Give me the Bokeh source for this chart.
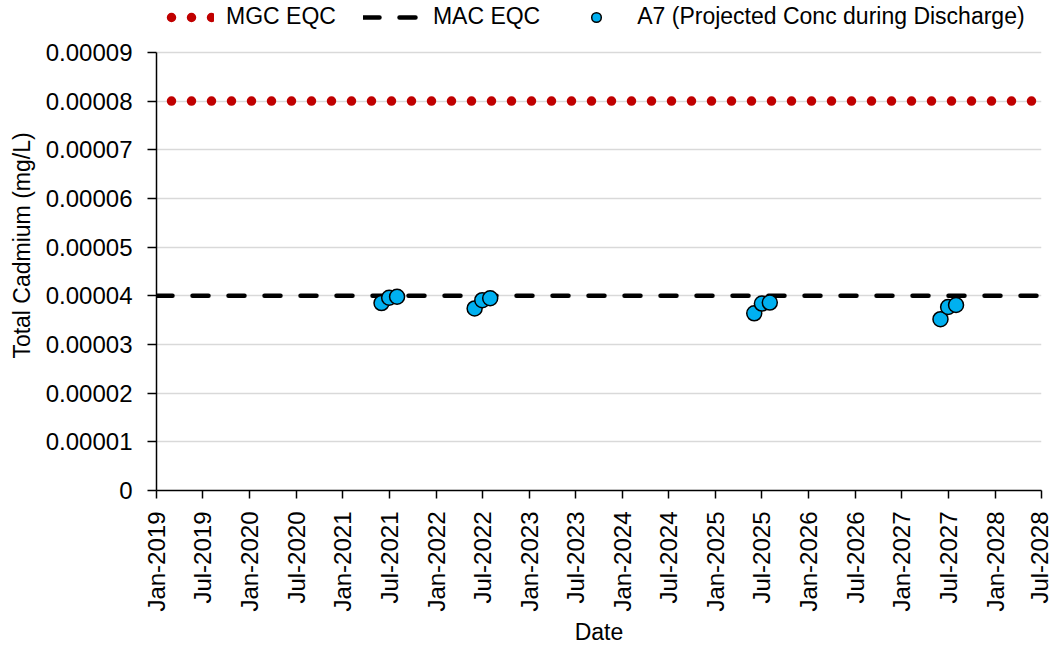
import math
from datetime import datetime
from bokeh.plotting import figure
from bokeh.models import (ColumnDataSource, Range1d, MonthsTicker, DatetimeTickFormatter,
                          FixedTicker, Legend, LegendItem)
from bokeh.embed import file_html
from bokeh.resources import INLINE

# ---- data ----
line_dates = ["2019-01-01", "2028-07-01"]
mgc_eqc = [0.00008, 0.00008]
mac_eqc = [0.00004, 0.00004]

a7_dates = ["2021-06-01", "2021-07-01", "2021-08-01",
            "2022-06-01", "2022-07-01", "2022-08-01",
            "2025-06-01", "2025-07-01", "2025-08-01",
            "2027-06-01", "2027-07-01", "2027-08-01"]
a7_conc = [3.85e-5, 3.96e-5, 3.98e-5,
           3.74e-5, 3.91e-5, 3.95e-5,
           3.64e-5, 3.84e-5, 3.86e-5,
           3.52e-5, 3.77e-5, 3.81e-5]

y_ticks = [0, 0.00001, 0.00002, 0.00003, 0.00004, 0.00005, 0.00006, 0.00007, 0.00008, 0.00009]
y_tick_labels = ["0", "0.00001", "0.00002", "0.00003", "0.00004", "0.00005",
                 "0.00006", "0.00007", "0.00008", "0.00009"]

FONT = "Liberation Sans"
Y_AXIS_MAX = 0.00009
# the frame extends above the axis top to leave room for the legend strip
Y_VIEW_TOP = Y_AXIS_MAX * 491.0 / 439.0

def to_dt(s):
    return datetime.strptime(s, "%Y-%m-%d")

line_src = ColumnDataSource(dict(x=[to_dt(d) for d in line_dates], mgc=mgc_eqc, mac=mac_eqc))
pt_src = ColumnDataSource(dict(x=[to_dt(d) for d in a7_dates], y=a7_conc))

p = figure(width=1052, height=647, x_axis_type="datetime",
           output_backend="svg", toolbar_location=None,
           x_range=Range1d(to_dt(line_dates[0]), to_dt(line_dates[1])),
           y_range=Range1d(0, Y_VIEW_TOP),
           min_border_left=156, min_border_right=11, min_border_top=0, min_border_bottom=156)
p.outline_line_color = None
p.background_fill_color = "white"
p.border_fill_color = "white"

# grid
p.xgrid.grid_line_color = None
p.ygrid.grid_line_color = "#D9D9D9"
p.ygrid.grid_line_width = 1.5
p.ygrid.ticker = FixedTicker(ticks=y_ticks)

# lines
r_mgc = p.line("x", "mgc", source=line_src, line_color="#C00000", line_width=9.5,
               line_dash="0 20", line_dash_offset=5, line_cap="round")
r_mac = p.line("x", "mac", source=line_src, line_color="black", line_width=4.5,
               line_dash="16 20", line_dash_offset=0, line_cap="round")
r_pts = p.scatter("x", "y", source=pt_src, size=15, fill_color="#00B0F0",
                  line_color="black", line_width=1.5)

# x axis
xa = p.xaxis[0]
xa.ticker = MonthsTicker(months=[0, 6])
xa.formatter = DatetimeTickFormatter(days="%b-%Y", months="%b-%Y", years="%b-%Y")
xa.major_label_orientation = math.pi / 2
xa.axis_label = "Date"
xa.minor_tick_line_color = None
xa.major_tick_in = 0
xa.major_tick_out = 8
xa.major_label_standoff = 13
xa.axis_label_standoff = 4

# y axis
ya = p.yaxis[0]
ya.ticker = FixedTicker(ticks=y_ticks)
ya.bounds = (0, Y_AXIS_MAX)
ya.major_label_overrides = {t: lab for t, lab in zip(y_ticks, y_tick_labels)}
ya.axis_label = "Total Cadmium (mg/L)"
ya.minor_tick_line_color = None
ya.major_tick_in = 0
ya.major_tick_out = 9
ya.major_label_standoff = 15
ya.axis_label_standoff = 8

for ax in (xa, ya):
    ax.axis_line_color = "black"
    ax.axis_line_width = 1.5
    ax.major_tick_line_color = "black"
    ax.major_tick_line_width = 1.5
    ax.major_label_text_font = FONT
    ax.major_label_text_font_size = "24px"
    ax.major_label_text_color = "black"
    ax.axis_label_text_font = FONT
    ax.axis_label_text_font_size = "23px"
    ax.axis_label_text_font_style = "normal"
    ax.axis_label_text_color = "black"

legend = Legend(items=[
    LegendItem(label="MGC EQC", renderers=[r_mgc]),
    LegendItem(label="MAC EQC", renderers=[r_mac]),
    LegendItem(label="A7 (Projected Conc during Discharge)", renderers=[r_pts]),
], orientation="horizontal", location=(0, 460),
    label_text_font=FONT, label_text_font_size="23px", label_text_color="black",
    glyph_width=58, glyph_height=24, label_height=24, label_standoff=12,
    spacing=27, padding=0, margin=0, border_line_color=None,
    background_fill_alpha=0)
p.add_layout(legend, "center")

open("out.html", "w").write(file_html(p, INLINE))
